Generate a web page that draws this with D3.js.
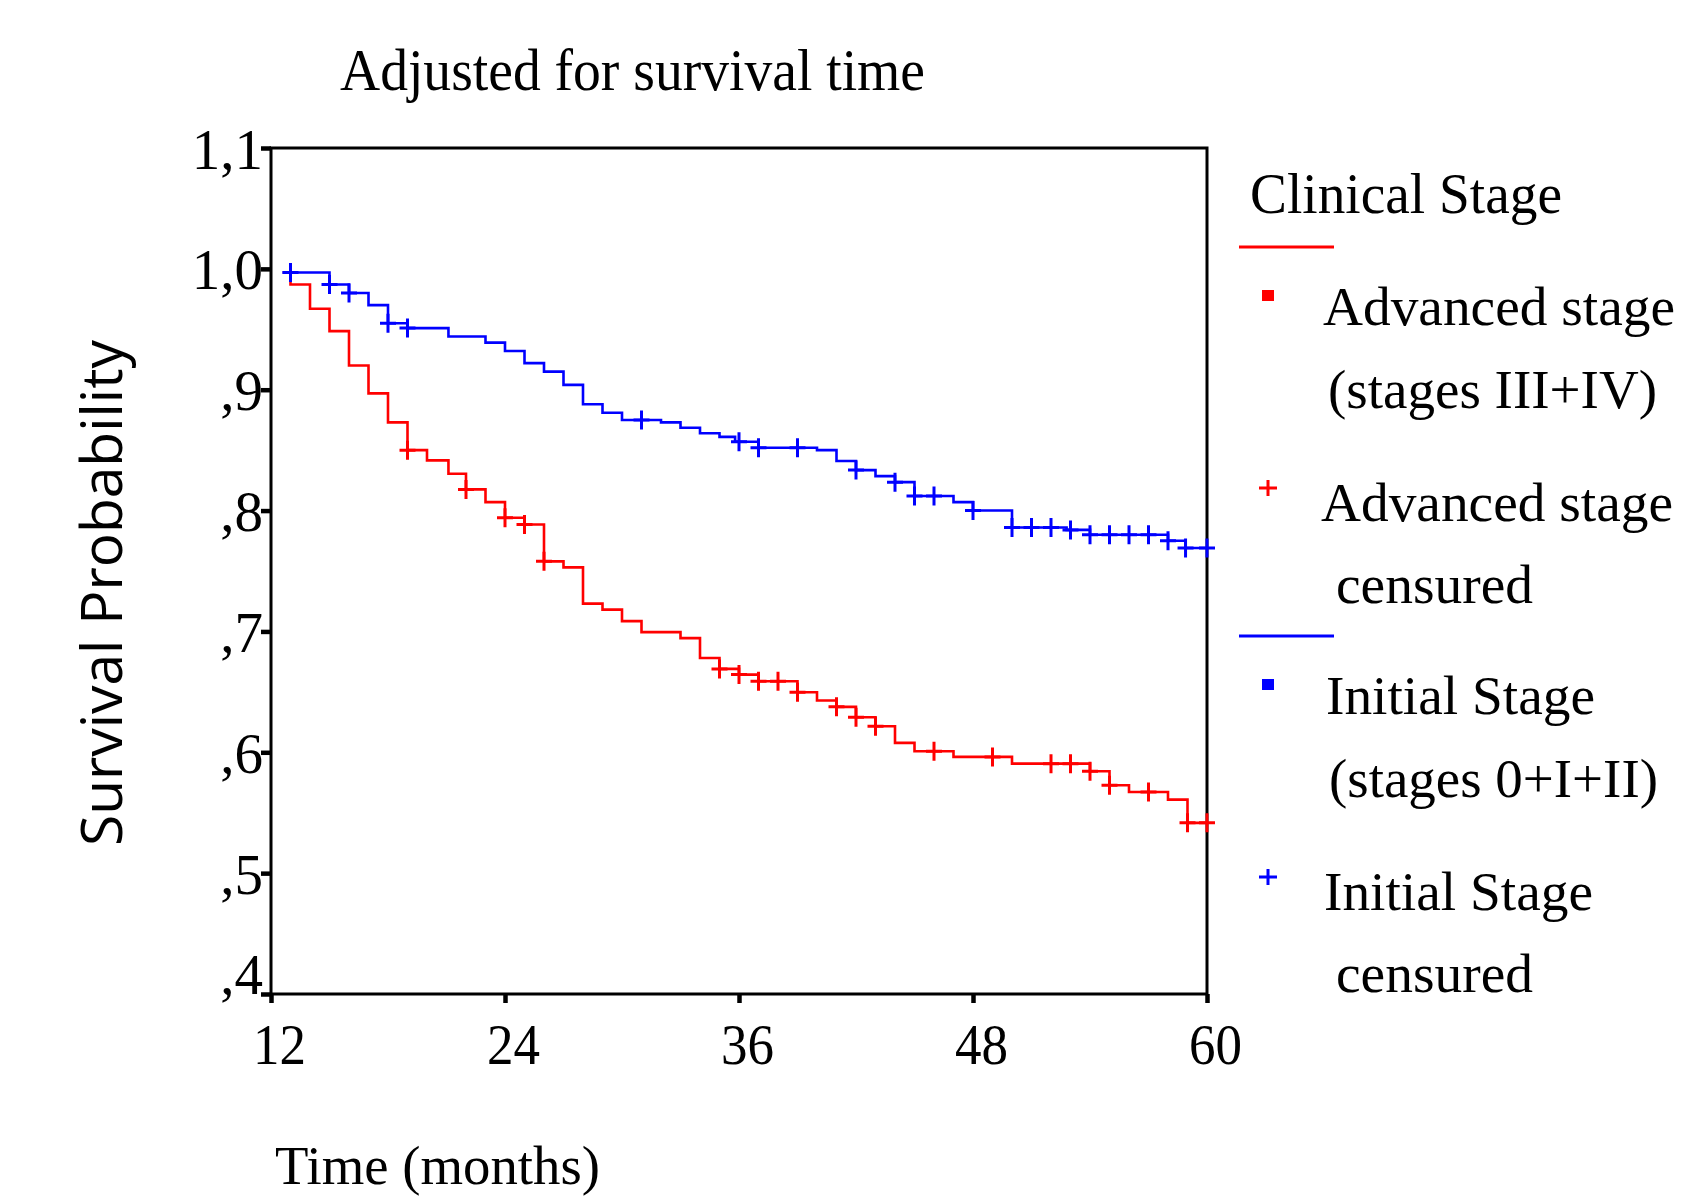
<!DOCTYPE html>
<html>
<head>
<meta charset="utf-8">
<script src="https://cdn.jsdelivr.net/npm/d3@7"></script>
<style>
body { margin: 0; background: #fff; }
svg text { font-family: "Liberation Serif", "Times New Roman", serif; fill: #000; }
</style>
</head>
<body>
<script>
// axis ticks
var xTicks = [12, 24, 36, 48, 60];
var yTicks = [0.4, 0.5, 0.6, 0.7, 0.8, 0.9, 1.0, 1.1];

// Advanced stage (III+IV): time of each step and survival after it
var advTimes = [12.6, 13, 14, 15, 16, 17, 18, 19, 20, 21.1, 22, 23, 24, 25, 26, 27, 28, 29, 30, 31,
    33, 34, 35, 36, 37, 39, 40, 41, 42, 43, 44, 45, 47, 50, 54, 55, 56, 58, 59];
var advSurv = [0.997, 0.987, 0.967, 0.9485, 0.920, 0.897, 0.873, 0.850, 0.8415, 0.8305, 0.8175, 0.807, 0.794, 0.7885, 0.758, 0.753, 0.723, 0.718, 0.7085, 0.6994,
    0.6945, 0.678, 0.669, 0.6643, 0.6588, 0.6497, 0.6428, 0.6376, 0.629, 0.6215, 0.6078, 0.6008, 0.5962, 0.5906, 0.5843, 0.5727, 0.5672, 0.5608, 0.5416];
var advCensored = [19, 22, 24, 25, 26, 35, 36, 37, 38, 39, 41, 42, 43, 46, 49, 52, 53, 54, 55, 57, 59, 60];

// Initial stage (0+I+II)
var iniTimes = [12.6, 15, 16, 17, 18, 19, 21.1, 23, 24, 25, 26, 27, 28, 29, 30, 32, 33, 34, 35, 35.8,
    37, 40, 41, 42, 43, 44, 45, 47, 48, 50, 52.8, 54, 58, 58.9];
var iniSurv = [0.997, 0.987, 0.980, 0.970, 0.955, 0.951, 0.944, 0.939, 0.932, 0.922, 0.915, 0.904, 0.888, 0.881, 0.875, 0.873, 0.8685, 0.864, 0.861, 0.857,
    0.852, 0.850, 0.841, 0.8335, 0.8285, 0.8235, 0.812, 0.807, 0.800, 0.786, 0.784, 0.780, 0.775, 0.769];
var iniCensored = [13, 15, 16, 18, 19, 31, 36, 37, 39, 42, 44, 45, 46, 48, 50, 51, 52, 53, 54, 55, 56, 57, 58, 58.9, 60];

var endTime = 60;

var margin = {top: 148, right: 487, bottom: 204, left: 271},
    width = 1694 - margin.left - margin.right,
    height = 1198 - margin.top - margin.bottom;

var x = d3.scaleLinear().domain([12, 60]).range([0, width]),
    y = d3.scaleLinear().domain([0.4, 1.1]).range([height, 0]);

var svg = d3.select("body").append("svg")
    .attr("width", 1694)
    .attr("height", 1198);

// squeeze / stretch a text to the width seen in the picture
function fit(sel, w) {
    sel.attr("textLength", w).attr("lengthAdjust", "spacingAndGlyphs");
    return sel;
}

// TITLE
fit(svg.append("text")
    .attr("x", 340).attr("y", 90)
    .attr("font-size", 60)
    .text("Adjusted for survival time"), 585);

var g = svg.append("g")
    .attr("transform", "translate(" + margin.left + "," + margin.top + ")");

// Y AXIS
var yAxis = g.append("g")
    .call(d3.axisLeft(y).tickValues(yTicks).tickSize(10).tickPadding(0)
        .tickFormat(function(d) {
            return d >= 1 ? d3.format(".1f")(d).replace(".", ",") : "," + Math.round(d * 10);
        }));
yAxis.select(".domain").remove();
yAxis.selectAll(".tick line").attr("stroke", "#000").attr("stroke-width", 4.5);
yAxis.selectAll(".tick text")
    .attr("font-size", 57)
    .attr("fill", "#000")
    .attr("x", -8)
    .attr("dy", function(d) { return d < 0.45 ? "-1px" : "20px"; });

// X AXIS
var xAxis = g.append("g")
    .attr("transform", "translate(0," + height + ")")
    .call(d3.axisBottom(x).tickValues(xTicks).tickSize(9).tickPadding(0));
xAxis.select(".domain").remove();
xAxis.selectAll(".tick line").attr("stroke", "#000").attr("stroke-width", 4.5);
xAxis.selectAll(".tick text")
    .attr("font-size", 57)
    .attr("fill", "#000")
    .attr("x", 8)
    .attr("y", 70)
    .attr("dy", 0)
    .attr("textLength", 53)
    .attr("lengthAdjust", "spacingAndGlyphs");

// frame
g.append("rect")
    .attr("width", width).attr("height", height)
    .attr("fill", "none").attr("stroke", "#000").attr("stroke-width", 3);

// AXIS TITLES
fit(svg.append("text")
    .attr("x", 275).attr("y", 1184)
    .attr("font-size", 55)
    .text("Time (months)"), 325);

fit(svg.append("text")
    .attr("transform", "translate(122,846) rotate(-90)")
    .style("font-family", "'Open Sans', 'Liberation Sans', sans-serif")
    .attr("font-size", 57)
    .text("Survival Probability"), 506);

// CURVES
var line = d3.line()
    .x(function(d) { return x(d[0]); })
    .y(function(d) { return y(d[1]); })
    .curve(d3.curveStepAfter);

function survAt(times, surv, t) {
    var v = surv[0];
    for (var i = 0; i < times.length; i++) {
        if (times[i] <= t + 1e-9) v = surv[i];
    }
    return v;
}

function drawCurve(times, surv, censored, color) {
    var pts = times.map(function(t, i) { return [t, surv[i]]; });
    pts.push([endTime, surv[surv.length - 1]]);

    g.append("path")
        .datum(pts)
        .attr("fill", "none")
        .attr("stroke", color)
        .attr("stroke-width", 2.6)
        .attr("d", line);

    g.selectAll(null)
        .data(censored)
        .enter().append("path")
        .attr("transform", function(d) {
            return "translate(" + x(d) + "," + y(survAt(times, surv, d)) + ")";
        })
        .attr("d", "M-8,0H8M0,-9.5V9.5")
        .attr("stroke", color)
        .attr("stroke-width", 3)
        .attr("fill", "none");
}

drawCurve(advTimes, advSurv, advCensored, "#ff0000");
drawCurve(iniTimes, iniSurv, iniCensored, "#0000ff");

// LEGEND
fit(svg.append("text")
    .attr("x", 1250).attr("y", 213)
    .attr("font-size", 57)
    .text("Clinical Stage"), 312);

var legendGroups = [
    {color: "#ff0000", lineY: 247, lines: [
        ["Advanced stage", 1323, 352], ["(stages III+IV)", 1328, 329],
        ["Advanced stage", 1321, 352], ["censured", 1336, 197]]},
    {color: "#0000ff", lineY: 636, lines: [
        ["Initial Stage", 1326, 269], ["(stages 0+I+II)", 1329, 329],
        ["Initial Stage", 1324, 269], ["censured", 1336, 197]]}
];
var lineOffsets = [78, 161, 274, 356];

legendGroups.forEach(function(grp) {
    var base = grp.lineY;
    svg.append("line")
        .attr("x1", 1239).attr("x2", 1334)
        .attr("y1", base).attr("y2", base)
        .attr("stroke", grp.color).attr("stroke-width", 3);
    svg.append("rect")
        .attr("x", 1262).attr("y", base + 43)
        .attr("width", 12).attr("height", 11)
        .attr("fill", grp.color);
    svg.append("path")
        .attr("transform", "translate(1268," + (base + 241) + ")")
        .attr("d", "M-9,0H9M0,-8V8")
        .attr("stroke", grp.color).attr("stroke-width", 3);
    grp.lines.forEach(function(l, i) {
        fit(svg.append("text")
            .attr("x", l[1]).attr("y", base + lineOffsets[i])
            .attr("font-size", 55)
            .text(l[0]), l[2]);
    });
});
</script>
</body>
</html>
